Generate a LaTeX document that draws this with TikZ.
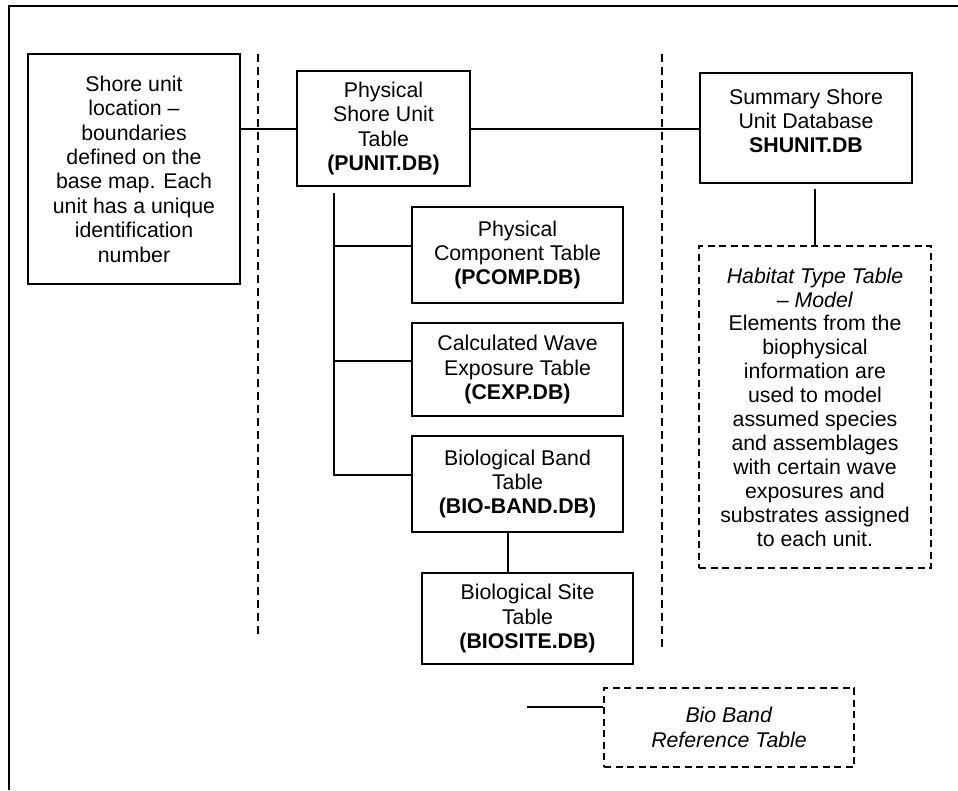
\documentclass[tikz,border=0pt]{standalone}
\usepackage{fontspec}
\setmainfont{Liberation Sans}
\usetikzlibrary{trees,calc}

\begin{document}
\begin{tikzpicture}[%
    x=1pt, y=-1pt,
    line width=2pt,
    font=\fontsize{21.3}{24.4}\selectfont,
    dbtable/.style={draw, align=center, inner sep=2pt},
    modelbox/.style={dbtable, dash pattern=on 7pt off 4.5pt},
    divider/.style={dash pattern=on 8pt off 5pt},
    grow via three points={
        one child at (115,126.5) and two children at (115,126.5) and (115,241)
    },
    edge from parent path={
        ($(\tikzparentnode\tikzparentanchor)+(38,6)$) |- ($(\tikzchildnode\tikzchildanchor)+(0,-9)$)
    },
    growth parent anchor=west,
    parent anchor=south west,
    child anchor=west]
  \useasboundingbox (0,0) rectangle (958,790);
  \draw[line width=2.6pt] (958,6) -- (9,6) -- (9,790);
  \draw[divider] (258,54) -- (258,638);
  \draw[divider] (662,54) -- (662,648);

  \node[dbtable, minimum width=212pt, minimum height=230pt] (shore) at (134,169)
    {Shore unit\\location --\\boundaries\\defined on the\\base map. Each\\unit has a unique\\identification\\number};

  \node[dbtable, minimum width=173pt, minimum height=115pt] (punit) at (383.5,128.5)
    {Physical\\Shore Unit\\Table\\\textbf{(PUNIT.DB)}}
    child { node[dbtable, anchor=west, minimum width=211pt, minimum height=96pt] (pcomp)
      {Physical\\Component Table\\\textbf{(PCOMP.DB)}}}
    child { node[dbtable, anchor=west, minimum width=211pt, minimum height=93pt] (cexp)
      {Calculated Wave\\Exposure Table\\\textbf{(CEXP.DB)}}}
    child { node[dbtable, anchor=west, minimum width=211pt, minimum height=96pt] (bioband)
      {Biological Band\\Table\\\textbf{(BIO-BAND.DB)}}
      child [grow=south, level distance=88pt,
        edge from parent path={([xshift=-9.5pt]\tikzparentnode.south) -- ([xshift=-19.5pt]\tikzchildnode.north)}]
        { node[dbtable, anchor=north west, xshift=10pt, minimum width=211pt, minimum height=91pt] (biosite)
          {Biological Site\\Table\\\textbf{(BIOSITE.DB)}}}
    };

  \node[dbtable, minimum width=212pt, minimum height=110pt] (shunit) at (806,128)
    {Summary Shore\\Unit Database\\\textbf{SHUNIT.DB}\\[-10pt]\mbox{}};

  \node[modelbox, minimum width=232pt, minimum height=322pt,
        font=\fontsize{21.3}{23.9}\selectfont] (habitat) at (815,407)
    {\textit{Habitat Type Table}\\\textit{-- Model}\\Elements from the\\biophysical\\information are\\used to model\\assumed species\\and assemblages\\with certain wave\\exposures and\\substrates assigned\\to each unit.};

  \node[modelbox, minimum width=250pt, minimum height=79pt] (bioref) at (729,727.5)
    {\textit{Bio Band}\\\textit{Reference Table}};

  \draw (shore.east |- punit.west) -- (punit.west);
  \draw (punit.east) -- (punit.east -| shunit.west);
  \draw ($(habitat.north |- shunit.south)+(0,5)$) -- (habitat.north);
  \coordinate (refstub) at (527,707);
  \draw (refstub) -- (refstub -| bioref.west);
\end{tikzpicture}
\end{document}
